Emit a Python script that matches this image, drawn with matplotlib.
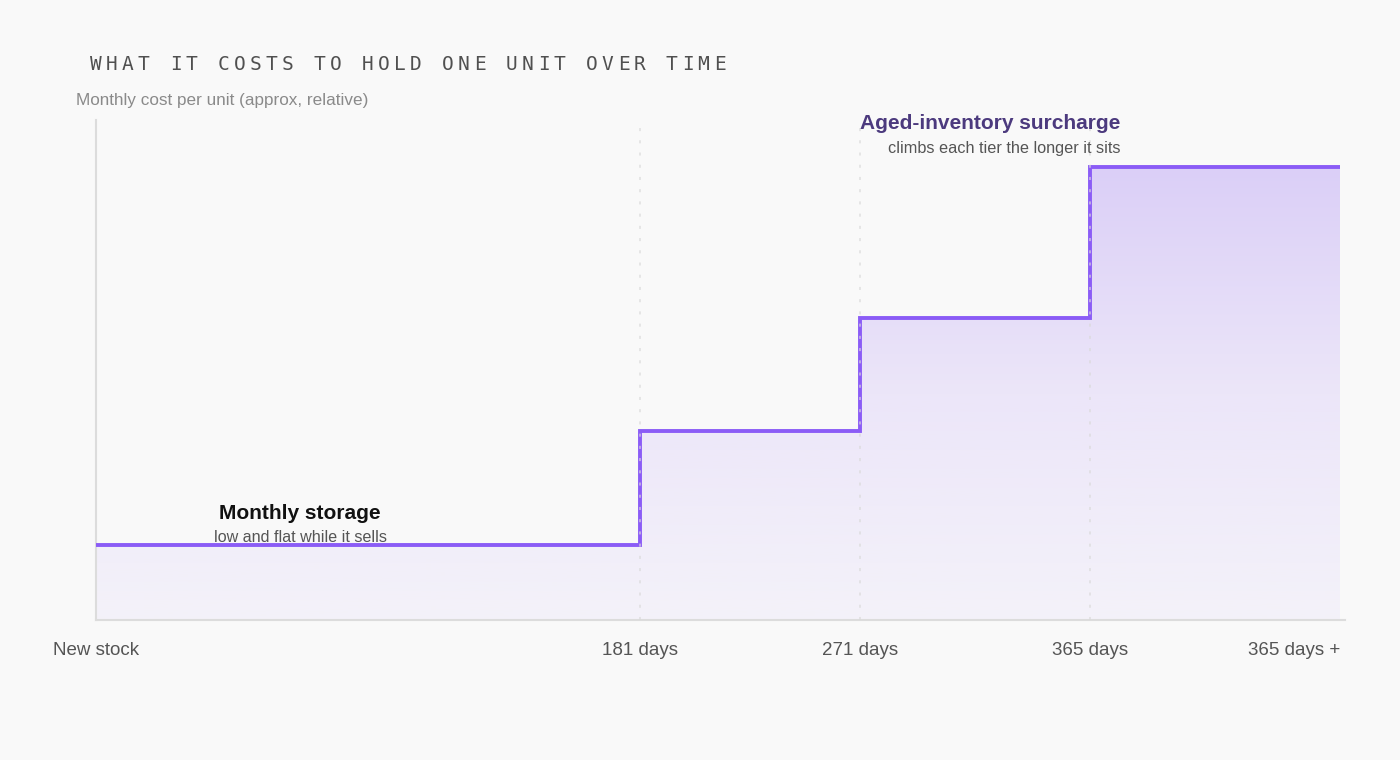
import matplotlib
matplotlib.use("Agg")
import matplotlib.pyplot as plt
import numpy as np
from matplotlib.colors import LinearSegmentedColormap
from matplotlib.patches import Polygon

# ---- data ----
tick_labels = ["New stock", "181 days", "271 days", "365 days", "365 days +"]
tier_edges = [0, 544, 764, 994, 1244]          # relative position along the time axis
tier_cost = [1.0, 2.5, 4.0, 6.0]               # relative monthly cost per unit
title = "WHAT IT COSTS TO HOLD ONE UNIT OVER TIME"
ylabel = "Monthly cost per unit (approx, relative)"

BG = "#f9f9f9"
LINE = "#8b5cf6"

fig = plt.figure(figsize=(14, 7.6), dpi=100, facecolor=BG)
ax = fig.add_axes([96/1400, 1-620/760, (1345-96)/1400, 500/760])
ax.set_facecolor(BG)

ymax = 500/75.5
ax.set_xlim(0, 1249)
ax.set_ylim(0, ymax)

# step line
xs = tier_edges
ys = tier_cost + [tier_cost[-1]]
ax.step(xs, ys, where="post", color=LINE, lw=2.8, zorder=4, solid_joinstyle="miter", solid_capstyle="butt")

# gradient fill under step
poly_pts = [(tier_edges[0], 0)]
for i, v in enumerate(tier_cost):
    poly_pts.append((tier_edges[i], v))
    poly_pts.append((tier_edges[i+1], v))
poly_pts.append((tier_edges[-1], 0))
poly = Polygon(poly_pts, closed=True, facecolor="none", edgecolor="none")
ax.add_patch(poly)
cmap = LinearSegmentedColormap.from_list("g", ["#f4f2f9", "#ece6f9", "#dbcff7"])
grad = np.linspace(0, 1, 256).reshape(-1, 1)
top = tier_cost[-1]
im = ax.imshow(grad, extent=(0, tier_edges[-1], 0, top), origin="lower", cmap=cmap,
               aspect="auto", zorder=2, interpolation="bicubic")
im.set_clip_path(poly)

# dotted verticals
ax.vlines(tier_edges[1:4], 0, ymax, colors="#d9d9d9", linestyles=(0, (2, 6)), lw=1.1, zorder=5, alpha=0.8)

# spines
for s in ["top", "right"]:
    ax.spines[s].set_visible(False)
for s in ["left", "bottom"]:
    ax.spines[s].set_color("#dcdcdc")
    ax.spines[s].set_linewidth(1.5)
ax.set_yticks([])
ax.set_xticks(tier_edges)
labels = ax.set_xticklabels(tick_labels, fontfamily="Liberation Sans", fontsize=13.5, color="#555555")
labels[-1].set_horizontalalignment("right")
ax.tick_params(axis="x", length=0, pad=16)

# annotations
ax.text(204, 1.41, "Monthly storage", ha="center", va="center", fontfamily="Liberation Sans",
        fontweight="bold", fontsize=15, color="#111111", zorder=6)
ax.text(204, 1.09, "low and flat while it sells", ha="center", va="center", fontfamily="Liberation Sans",
        fontsize=11.6, color="#555555", zorder=6)
ax.text(1024, 6.57, "Aged-inventory surcharge", ha="right", va="center", fontfamily="Liberation Sans",
        fontweight="bold", fontsize=15, color="#4c3a7e", zorder=6, clip_on=False)
ax.text(1024, 6.25, "climbs each tier the longer it sits", ha="right", va="center", fontfamily="Liberation Sans",
        fontsize=11.7, color="#555555", zorder=6, clip_on=False)

# title with letter spacing
for i, ch in enumerate(title):
    fig.text((90 + i*16 + 5.5)/1400, 1-64.5/760, ch, ha="center", va="center",
             fontfamily="DejaVu Sans Mono", fontsize=14, color="#505050")

fig.text(76/1400, 1-100.5/760, ylabel, ha="left", va="center", fontfamily="Liberation Sans",
         fontsize=12.3, color="#8a8a8a")

fig.savefig("out.png", dpi=100, facecolor=BG)
